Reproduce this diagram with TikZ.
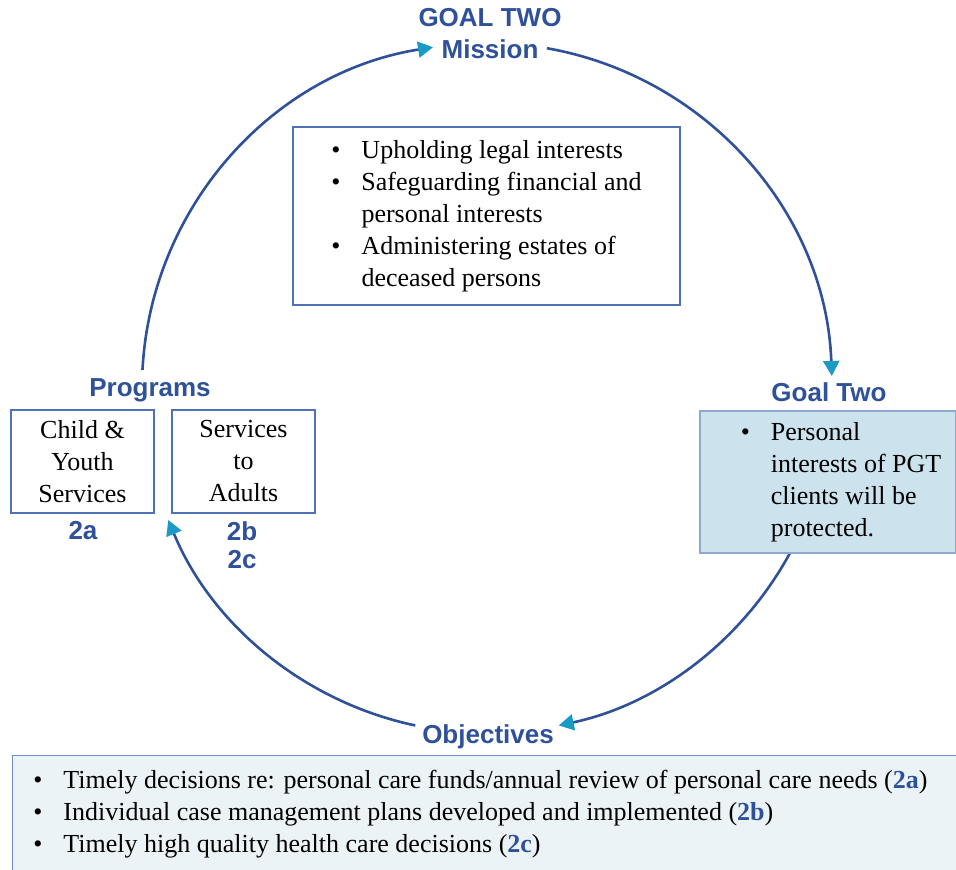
\documentclass[tikz,border=0pt]{standalone}
\usepackage{fontspec}
\setmainfont{Liberation Serif}
\setsansfont{Liberation Sans}
\usetikzlibrary{arrows.meta,calc,positioning}
\definecolor{goalblue}{HTML}{2E519A}
\definecolor{tipteal}{HTML}{1A9BC5}
\definecolor{boxline}{HTML}{4F72B5}
\definecolor{goalfill}{HTML}{CCE3EE}
\definecolor{goalline}{HTML}{8EA9D0}
\definecolor{objfill}{HTML}{ECF3F7}
\definecolor{objline}{HTML}{6E8FC7}
\newcommand{\hd}{\sffamily\bfseries\fontsize{13}{14}\selectfont\color{goalblue}}
\newcommand{\bx}{\fontsize{13}{16}\selectfont}
\newcommand{\objref}[1]{{\bfseries\color{goalblue}#1}}

\begin{document}
\begin{tikzpicture}[x=0.5pt,y=-0.5pt,
  head/.style={font=\hd,inner sep=1pt,align=center},
  plainbox/.style={draw=boxline,line width=0.6pt,fill=white,inner sep=0pt,align=center,font=\bx},
  loop/.style={draw=goalblue,line width=1.3pt,-{Triangle[length=7.5pt,width=8pt,color=tipteal]}}]
\useasboundingbox (0,0) rectangle (956,870);
\coordinate (hub) at (487,388);
% cycle arcs
\draw[loop] ($(hub)+(-177:345)$) arc[start angle=-177,end angle=-99,radius=345];
\draw[loop] ($(hub)+(-80:345)$) arc[start angle=-80,end angle=-2,radius=345];
\draw[loop] ($(hub)+(27:345)$) arc[start angle=27,end angle=78,radius=345];
\draw[loop] ($(hub)+(102:345)$) arc[start angle=102,end angle=157.5,radius=345];
% headings
\node[head] (goaltwo) at (490,18) {GOAL TWO};
\node[head] (mission) at (490,49) {Mission};
\node[head] (goal) at (829,392) {Goal Two};
\node[head] (programs) at (150,390) {Programs};
\node[head] (objectives) at (488,737) {Objectives};
% mission box
\node[plainbox,minimum width=193.5pt,minimum height=89pt] (missionbox) at (486.5,216) {\begin{tabular}{@{}c@{\hspace{10.5pt}}l@{}}
\textbullet & Upholding legal interests\\
\textbullet & Safeguarding financial and\\
 & personal interests\\
\textbullet & Administering estates of\\
 & deceased persons
\end{tabular}};
% goal box
\node[plainbox,draw=goalline,fill=goalfill,minimum width=128pt,minimum height=71pt] (goalbox) at (828,482) {\begin{tabular}{@{\hspace{13pt}}c@{\hspace{10.5pt}}l@{}}
\textbullet & Personal\\
 & interests of PGT\\
 & clients will be\\
 & protected.
\end{tabular}};
% programs
\node[plainbox,minimum width=71.5pt,minimum height=51.5pt] (child) at (82.5,461.5) {Child \&\\ Youth\\ Services};
\node[plainbox,minimum width=71.5pt,minimum height=51.5pt] (adults) at (243.5,461.5) {Services\\ to\\ Adults};
\node[head] (ref2a) at (83,531) {2a};
\node[head] (ref2bc) at (242,545) {2b\\ 2c};
% objectives box
\node[plainbox,draw=objline,fill=objfill,anchor=north west,minimum width=480pt,minimum height=62pt] (objbox) at (12,755) {};
\node[anchor=west,inner sep=0pt,font=\bx] (objlist) at (33,814) {\begin{tabular}{@{}c@{\hspace{10.5pt}}l@{}}
\textbullet & Timely decisions re: personal care funds/annual review of personal care needs (\objref{2a})\\
\textbullet & Individual case management plans developed and implemented (\objref{2b})\\
\textbullet & Timely high quality health care decisions (\objref{2c})
\end{tabular}};
\end{tikzpicture}
\end{document}
